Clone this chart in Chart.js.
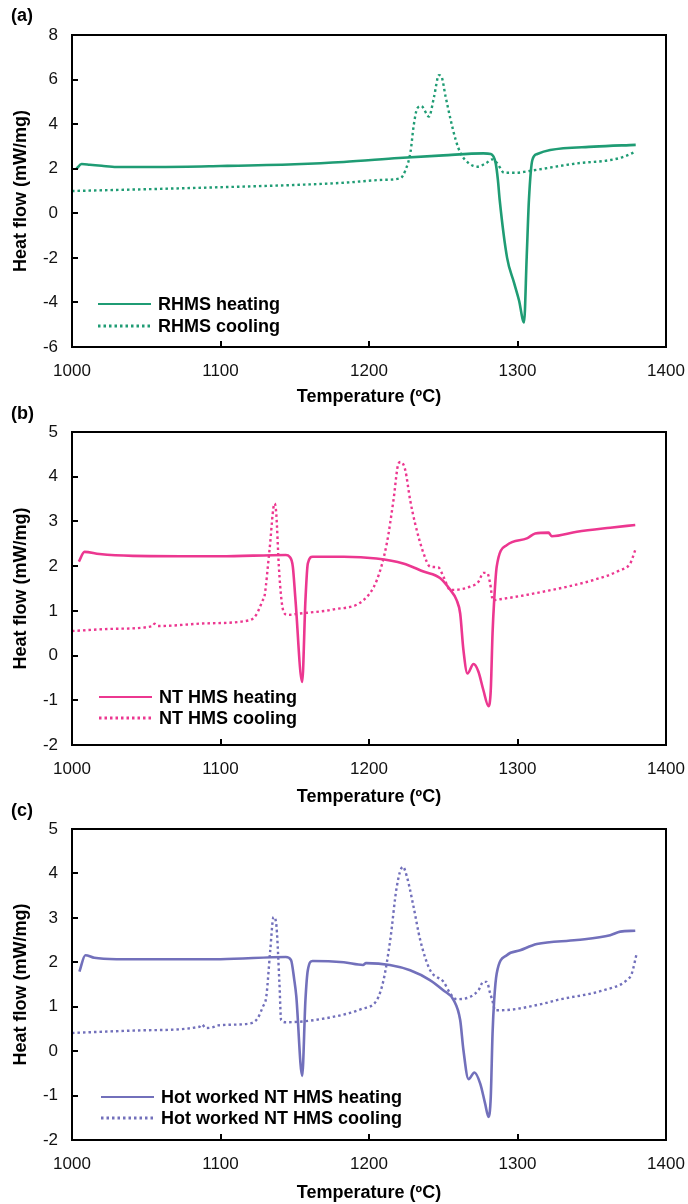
<!DOCTYPE html>
<html>
<head>
<meta charset="utf-8">
<script src="https://cdn.jsdelivr.net/npm/chart.js@4.4.1/dist/chart.umd.min.js"></script>
<style>
  html, body { margin: 0; padding: 0; background: #fff; }
  #wrap { position: relative; width: 688px; height: 1204px; }
  #wrap canvas { position: absolute; left: 0; }
</style>
</head>
<body>
<div id="wrap">
  <canvas id="panelA" width="688" height="410" style="top:0px"></canvas>
  <canvas id="panelB" width="688" height="408" style="top:402px"></canvas>
  <canvas id="panelC" width="688" height="402" style="top:802px"></canvas>
</div>
<script>
// ---- Temperature axis (ºC) ----
const tempMin = 1000, tempMax = 1400, tempStep = 100;

// ---- (a) RHMS ----
const rhmsHeatT = [1003, 1006.5, 1012, 1020, 1030, 1060, 1100, 1150, 1183, 1220, 1250, 1277, 1282, 1285.3, 1286.8, 1288, 1293, 1297.6, 1301, 1304.4, 1306.2, 1307.7, 1310, 1313.3, 1322, 1351.5, 1379.6];
const rhmsHeatV = [2.0, 2.21, 2.18, 2.13, 2.08, 2.08, 2.12, 2.2, 2.3, 2.48, 2.6, 2.69, 2.66, 2.25, 1.5, 0.6, -2.0, -3.1, -3.9, -4.9, -1.95, 0.6, 2.39, 2.66, 2.84, 2.99, 3.07];
const rhmsCoolT = [1000, 1050, 1100, 1150, 1183, 1210, 1221, 1224.6, 1228, 1230, 1232.5, 1235.2, 1240.4, 1243.8, 1247.1, 1248.7, 1251.6, 1255, 1258.4, 1261.7, 1267.3, 1273, 1278.6, 1283, 1286.4, 1291, 1299, 1308.9, 1340.3, 1362.7, 1371.7, 1379.6];
const rhmsCoolV = [1.0, 1.08, 1.17, 1.27, 1.37, 1.5, 1.57, 1.94, 2.77, 3.89, 4.71, 4.81, 4.34, 5.23, 6.2, 6.15, 5.23, 4.19, 3.29, 2.69, 2.24, 2.09, 2.24, 2.42, 2.24, 1.82, 1.82, 1.91, 2.24, 2.39, 2.54, 2.77];
const rhmsTicksY = { min: -6, max: 8, step: 2 };

// ---- (b) NT HMS ----
const ntHeatT = [1004.6, 1008.4, 1018.5, 1041, 1100, 1144, 1146.5, 1148.7, 1150.5, 1155, 1157.2, 1158.8, 1162, 1183, 1205, 1223, 1236.7, 1248, 1254.7, 1259, 1261.4, 1263.6, 1266.3, 1270.4, 1273.7, 1277, 1280.5, 1282, 1283.2, 1284.3, 1286, 1292.8, 1306.3, 1311.9, 1320.9, 1323, 1340, 1362.4, 1379.3];
const ntHeatV = [2.1, 2.32, 2.27, 2.23, 2.22, 2.25, 2.21, 1.99, 1.24, -0.59, 1.24, 2.06, 2.21, 2.21, 2.17, 2.06, 1.88, 1.73, 1.47, 1.24, 0.94, 0.12, -0.4, -0.19, -0.36, -0.77, -1.13, -0.77, 0.5, 1.24, 1.99, 2.47, 2.62, 2.73, 2.75, 2.67, 2.77, 2.86, 2.92];
const ntCoolT = [1000, 1030, 1054.4, 1055.5, 1058, 1090, 1119.5, 1124, 1128.5, 1129.6, 1133, 1136.4, 1137.5, 1139.3, 1141, 1142.5, 1145.3, 1153.2, 1175.6, 1196.3, 1205.3, 1212, 1216.5, 1219.9, 1221.5, 1224.4, 1227.7, 1231, 1236.7, 1241.2, 1246.8, 1250.2, 1254.7, 1257, 1268, 1273.7, 1277, 1279.7, 1281.6, 1283.4, 1288.4, 1317.5, 1351.2, 1369.1, 1375.9, 1379.3];
const ntCoolV = [0.55, 0.6, 0.66, 0.71, 0.66, 0.72, 0.79, 0.91, 1.24, 1.32, 2.36, 3.4, 3.2, 1.99, 1.26, 0.98, 0.91, 0.94, 1.03, 1.24, 1.69, 2.51, 3.48, 4.3, 4.33, 4.15, 3.48, 2.96, 2.29, 1.99, 1.97, 1.76, 1.47, 1.47, 1.54, 1.65, 1.85, 1.84, 1.61, 1.24, 1.26, 1.43, 1.69, 1.91, 2.06, 2.36];
const ntTicksY = { min: -2, max: 5, step: 1 };

// ---- (c) Hot worked NT HMS ----
const hwHeatT = [1005, 1009, 1015, 1030, 1100, 1144, 1147.5, 1149.7, 1151, 1155, 1157.2, 1158.8, 1162, 1183, 1196, 1198, 1214, 1227.7, 1241, 1250, 1257, 1261.4, 1263.6, 1267, 1271, 1274.9, 1278.2, 1280.5, 1282, 1283.2, 1284.3, 1286, 1292.8, 1301.8, 1313, 1340, 1362.4, 1369.2, 1379.3];
const hwHeatV = [1.79, 2.16, 2.1, 2.07, 2.07, 2.12, 2.05, 1.6, 1.25, -0.56, 1.15, 1.82, 2.03, 2.0, 1.94, 1.98, 1.94, 1.82, 1.6, 1.37, 1.15, 0.7, 0.02, -0.63, -0.48, -0.73, -1.18, -1.48, -1.03, 0.4, 1.15, 1.75, 2.16, 2.27, 2.41, 2.5, 2.61, 2.69, 2.71];
const hwCoolT = [1000, 1050, 1085.9, 1087.5, 1090, 1095, 1098, 1119.5, 1125, 1128.5, 1130.8, 1133.5, 1135.7, 1137.4, 1139.7, 1140.8, 1144.2, 1175.6, 1195, 1205.3, 1209.8, 1214.3, 1218.7, 1222.8, 1225.5, 1230, 1234.5, 1241.2, 1250.2, 1254.7, 1259, 1268, 1273.7, 1277, 1279.3, 1281.6, 1283, 1285, 1288.4, 1317.5, 1326.5, 1358, 1373.7, 1377, 1380];
const hwCoolV = [0.41, 0.47, 0.55, 0.6, 0.52, 0.54, 0.58, 0.62, 0.74, 1.0, 1.22, 2.27, 3.02, 2.9, 1.52, 0.7, 0.65, 0.77, 0.95, 1.15, 1.6, 2.5, 3.7, 4.15, 3.93, 3.25, 2.5, 1.82, 1.56, 1.3, 1.17, 1.22, 1.37, 1.56, 1.56, 1.3, 1.15, 0.92, 0.92, 1.07, 1.15, 1.37, 1.6, 1.75, 2.16];
const hwTicksY = { min: -2, max: 5, step: 1 };

const FONT = '"Liberation Sans", Arial, Helvetica, sans-serif';

function pts(T, V) { return T.map((t, i) => ({ x: t, y: V[i] })); }

// Frame, inward tick marks, in-plot legend and panel letter
const decorPlugin = {
  id: 'decor',
  afterDraw(chart, args, o) {
    const { ctx, chartArea: a, scales: { x, y } } = chart;
    ctx.save();
    ctx.strokeStyle = '#000';
    ctx.lineWidth = 2;
    ctx.strokeRect(a.left, a.top, a.right - a.left, a.bottom - a.top);
    ctx.beginPath();
    y.ticks.forEach(t => {
      const py = Math.round(y.getPixelForValue(t.value));
      ctx.moveTo(a.left, py); ctx.lineTo(a.left + 6, py);
    });
    x.ticks.forEach(t => {
      const px = Math.round(x.getPixelForValue(t.value));
      ctx.moveTo(px, a.bottom); ctx.lineTo(px, a.bottom - 6);
    });
    ctx.stroke();

    // legend inside the plot
    ctx.font = 'bold 18px ' + FONT;
    ctx.textBaseline = 'middle';
    ctx.fillStyle = '#000';
    chart.data.datasets.forEach((ds, i) => {
      const ly = a.bottom - o.legendOffsets[i];
      ctx.save();
      ctx.strokeStyle = ds.borderColor;
      ctx.lineWidth = ds.legendWidth;
      ctx.setLineDash(ds.borderDash || []);
      ctx.beginPath();
      ctx.moveTo(o.legendX, ly); ctx.lineTo(o.legendX + 53, ly);
      ctx.stroke();
      ctx.restore();
      ctx.fillText(ds.label, o.legendX + 60, ly + 1);
    });

    // panel letter
    ctx.font = 'bold 18px ' + FONT;
    ctx.fillText(o.letter, 11, o.letterY);
    ctx.restore();
  }
};

function makeChart(id, cfg) {
  const H = document.getElementById(id).height;
  const xAxisH = H - cfg.plotBottom;
  new Chart(document.getElementById(id), {
    type: 'line',
    data: {
      datasets: [
        { label: cfg.names[0], data: pts(cfg.heatT, cfg.heatV), borderColor: cfg.color, borderWidth: 2.6, legendWidth: 1.8,
          pointRadius: 0, cubicInterpolationMode: 'monotone', fill: false },
        { label: cfg.names[1], data: pts(cfg.coolT, cfg.coolV), borderColor: cfg.color, borderWidth: 2.4, legendWidth: 3,
          borderDash: [2.5, 3], pointRadius: 0, cubicInterpolationMode: 'monotone', fill: false }
      ]
    },
    options: {
      responsive: false,
      animation: false,
      devicePixelRatio: 1,
      layout: { padding: { top: cfg.plotTop, left: 0, right: 22, bottom: 0 } },
      plugins: {
        legend: { display: false },
        tooltip: { enabled: false },
        decor: { letter: cfg.letter, letterY: cfg.letterY, legendX: cfg.legendX, legendOffsets: cfg.legendOffsets }
      },
      scales: {
        x: {
          type: 'linear', min: tempMin, max: tempMax,
          afterFit: s => { s.height = xAxisH; s.paddingLeft = 0; s.paddingRight = 0; },
          ticks: { stepSize: tempStep, color: '#111', font: { family: FONT, size: 17 }, padding: 14, maxRotation: 0,
                   callback: v => String(v) },
          grid: { display: false, drawTicks: false },
          border: { display: false },
          title: { display: true, text: 'Temperature (ºC)', color: '#000',
                   font: { family: FONT, size: 18, weight: 'bold' }, padding: { top: 0, bottom: cfg.titlePad } }
        },
        y: {
          type: 'linear', min: cfg.yTicks.min, max: cfg.yTicks.max,
          afterFit: s => { s.width = 72; s.paddingTop = 0; s.paddingBottom = 0; },
          ticks: { stepSize: cfg.yTicks.step, color: '#111', font: { family: FONT, size: 17 }, padding: 14,
                   callback: v => String(v) },
          grid: { display: false, drawTicks: false },
          border: { display: false },
          title: { display: true, text: 'Heat flow (mW/mg)', color: '#000',
                   font: { family: FONT, size: 18, weight: 'bold' }, padding: { top: 10.5, bottom: 0 } }
        }
      }
    },
    plugins: [decorPlugin]
  });
}

makeChart('panelA', {
  heatT: rhmsHeatT, heatV: rhmsHeatV, coolT: rhmsCoolT, coolV: rhmsCoolV, yTicks: rhmsTicksY,
  names: ['RHMS heating', 'RHMS cooling'], color: '#1f9c74',
  plotTop: 35, plotBottom: 347, titlePad: 2.2, letter: '(a)', letterY: 16,
  legendX: 98, legendOffsets: [43, 21]
});
makeChart('panelB', {
  heatT: ntHeatT, heatV: ntHeatV, coolT: ntCoolT, coolV: ntCoolV, yTicks: ntTicksY,
  names: ['NT HMS heating', 'NT HMS cooling'], color: '#ec3790',
  plotTop: 30, plotBottom: 343, titlePad: 2.2, letter: '(b)', letterY: 12,
  legendX: 99, legendOffsets: [48, 27]
});
makeChart('panelC', {
  heatT: hwHeatT, heatV: hwHeatV, coolT: hwCoolT, coolV: hwCoolV, yTicks: hwTicksY,
  names: ['Hot worked NT HMS heating', 'Hot worked NT HMS cooling'], color: '#7270bb',
  plotTop: 27, plotBottom: 338, titlePad: 0.2, letter: '(c)', letterY: 9,
  legendX: 101, legendOffsets: [43, 22]
});
</script>
</body>
</html>
